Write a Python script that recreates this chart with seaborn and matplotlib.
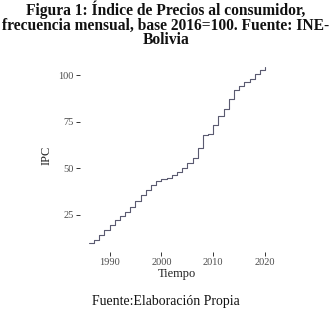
import matplotlib
matplotlib.use("Agg")
import matplotlib.pyplot as plt
import seaborn as sns
import pandas as pd

years = [1986, 1987, 1988, 1989, 1990, 1991, 1992, 1993, 1994, 1995, 1996, 1997,
         1998, 1999, 2000, 2001, 2002, 2003, 2004, 2005, 2006, 2007, 2008, 2009,
         2010, 2011, 2012, 2013, 2014, 2015, 2016, 2017, 2018, 2019, 2020]
ipc = [9.8, 11.6, 14.3, 17.0, 19.6, 22.3, 24.5, 26.8, 29.5, 32.7, 35.7, 38.4,
       40.8, 43.0, 44.1, 45.0, 46.5, 48.2, 50.0, 52.7, 55.4, 60.7, 67.9, 68.2,
       73.2, 78.0, 82.1, 87.5, 92.0, 94.3, 96.4, 98.2, 100.9, 102.7, 104.5]
x_ticks = [1990, 2000, 2010, 2020]
y_ticks = [25, 50, 75, 100]

title = "Figura 1: Índice de Precios al consumidor,\nfrecuencia mensual, base 2016=100. Fuente: INE-\nBolivia"
caption = "Fuente:Elaboración Propia"

df = pd.DataFrame({"Tiempo": years, "IPC": ipc})

sns.set_style("white")
plt.rcParams["font.family"] = ["Liberation Serif", "DejaVu Serif"]

fig = plt.figure(figsize=(3.32, 3.20), dpi=100)
ax = fig.add_axes([0.241, 0.2125, 0.584, 0.606])
sns.lineplot(data=df, x="Tiempo", y="IPC", ax=ax, drawstyle="steps-post",
             color="#5a5a70", linewidth=0.8)

ax.set_xlim(1984.3, 2021.7)
ax.set_ylim(5.1, 109.2)
ax.set_xticks(x_ticks)
ax.set_yticks(y_ticks)
for s in ax.spines.values():
    s.set_visible(False)
ax.tick_params(axis="both", which="both", length=3, width=0.7, color="#333333",
               labelsize=7.5, labelcolor="#4d4d4d", pad=1.5, direction="out",
               bottom=True, left=True)
ax.set_xlabel("Tiempo", fontsize=9, color="#222222", labelpad=0.5)
ax.set_ylabel("IPC", fontsize=9, color="#222222", labelpad=4)

fig.text(0.5, 0.998, title, ha="center", va="top", fontsize=11.2,
         fontweight="bold", linespacing=0.88, color="#111111")
fig.text(0.5, 0.057, caption, ha="center", va="center", fontsize=9.9,
         color="#111111")

fig.savefig("out.png", dpi=100)
